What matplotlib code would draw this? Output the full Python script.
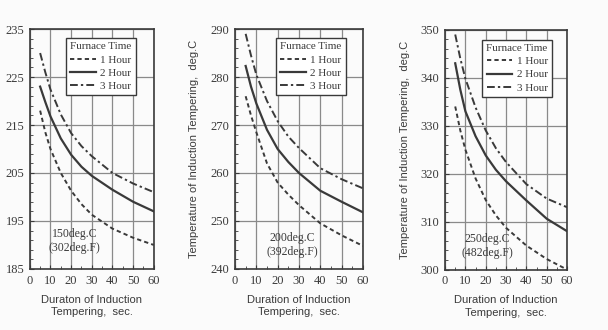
import matplotlib
matplotlib.use("Agg")
import matplotlib.pyplot as plt
from matplotlib.ticker import MultipleLocator

duration = [5, 7.5, 10, 15, 20, 25, 30, 40, 50, 60]
series_labels = ["1 Hour", "2 Hour", "3 Hour"]

p1_1h = [218, 213.5, 210, 205, 201.3, 198.5, 196.3, 193.4, 191.5, 190]
p1_2h = [223, 219.8, 216.8, 212.2, 208.8, 206.3, 204.4, 201.5, 199, 197]
p1_3h = [230, 226, 222.4, 217.2, 213.3, 210.6, 208.5, 205, 202.8, 201]

p2_1h = [276, 272, 268.5, 262, 258, 255.5, 253.3, 249.5, 247, 244.8]
p2_2h = [282.3, 278, 274.5, 269, 265, 262.3, 260, 256.3, 254, 251.8]
p2_3h = [289, 284.5, 280.5, 275, 270.8, 267.6, 265.2, 261, 258.7, 256.8]

p3_1h = [334, 329, 325, 319, 314.5, 311.3, 308.7, 305, 302.2, 300]
p3_2h = [343, 337.5, 333, 327.8, 323.8, 320.8, 318.4, 314.4, 310.6, 308]
p3_3h = [349, 344, 339.8, 333.8, 329, 325.3, 322.4, 317.8, 314.8, 313]

panel_notes = ["150deg.C\n(302deg.F)", "200deg.C\n(392deg.F)", "250deg.C\n(482deg.F)"]
x_labels = ["Duraton of Induction\nTempering,  sec.",
            "Duration of Induction\nTempering,  sec.",
            "Duration of Induction\nTempering,  sec."]
y_label = "Temperature of Induction Tempering,  deg.C"
y_ticks = [[185, 195, 205, 215, 225, 235],
           [240, 250, 260, 270, 280, 290],
           [300, 310, 320, 330, 340, 350]]
x_ticks = [0, 10, 20, 30, 40, 50, 60]
legend_title = "Furnace Time"

panels = [(p1_1h, p1_2h, p1_3h), (p2_1h, p2_2h, p2_3h), (p3_1h, p3_2h, p3_3h)]
note_pos = [(21.8, 190.8), (26.7, 245.0), (20.7, 305.0)]
axes_rects = [(0.049, 0.185, 0.204, 0.727),
              (0.3865, 0.185, 0.2105, 0.727),
              (0.732, 0.183, 0.2007, 0.727)]
legend_anchor = [(0.855, 0.9625), (0.867, 0.9625), (0.877, 0.958)]

ink = "#3a3a3a"
styles = [(0, (2.2, 1.6)), "-", (0, (4, 1.6, 1.2, 1.6))]
serif = ["Liberation Serif", "DejaVu Serif"]
sans = ["Liberation Sans", "DejaVu Sans"]

fig = plt.figure(figsize=(6.08, 3.30), dpi=100)
fig.patch.set_facecolor("#fbfbfb")

for i, (series, rect) in enumerate(zip(panels, axes_rects)):
    ax = fig.add_axes(rect)
    ax.set_facecolor("#fbfbfb")
    for vals, ls, lab in zip(series, styles, series_labels):
        ax.plot(duration, vals, linestyle=ls, color=ink, linewidth=1.6 if ls == "-" else 1.4, label=lab)
    ax.set_xlim(0, 60)
    ax.set_ylim(y_ticks[i][0], y_ticks[i][-1])
    ax.set_xticks(x_ticks)
    ax.set_yticks(y_ticks[i])
    ax.yaxis.set_minor_locator(MultipleLocator(2, offset=y_ticks[i][0] % 2))
    ax.xaxis.set_minor_locator(MultipleLocator(5))
    ax.grid(True, which="major", color="#8a8a8a", linewidth=0.9)
    ax.tick_params(which="both", direction="in", colors=ink, labelcolor=ink)
    ax.tick_params(which="major", length=3, labelsize=9, pad=4)
    ax.tick_params(which="minor", length=2)
    for lbl in ax.get_xticklabels() + ax.get_yticklabels():
        lbl.set_fontfamily(serif)
    for sp in ax.spines.values():
        sp.set_color(ink)
        sp.set_linewidth(1.2)
    ax.set_xlabel(x_labels[i], fontsize=8, family=sans, color=ink, labelpad=6, linespacing=1.3)
    if i > 0:
        ax.set_ylabel(y_label, fontsize=8, family=sans, color=ink, labelpad=8)
    ax.text(note_pos[i][0], note_pos[i][1], panel_notes[i], ha="center", va="center",
            fontsize=8.5, family=serif, color=ink, linespacing=1.2)
    leg = ax.legend(title=legend_title, loc="upper right", bbox_to_anchor=legend_anchor[i],
                    prop={"family": serif, "size": 8}, title_fontproperties={"family": serif, "size": 8},
                    frameon=True, fancybox=False, edgecolor=ink, framealpha=1,
                    handlelength=2.3, handletextpad=0.4, borderpad=0.4, labelspacing=0.3,
                    borderaxespad=0, markerfirst=True, alignment="right")
    leg.get_frame().set_linewidth(1.0)
    for t in leg.get_texts():
        t.set_color(ink)
    leg.get_title().set_color(ink)

fig.savefig("out.png", dpi=100, facecolor=fig.get_facecolor())
